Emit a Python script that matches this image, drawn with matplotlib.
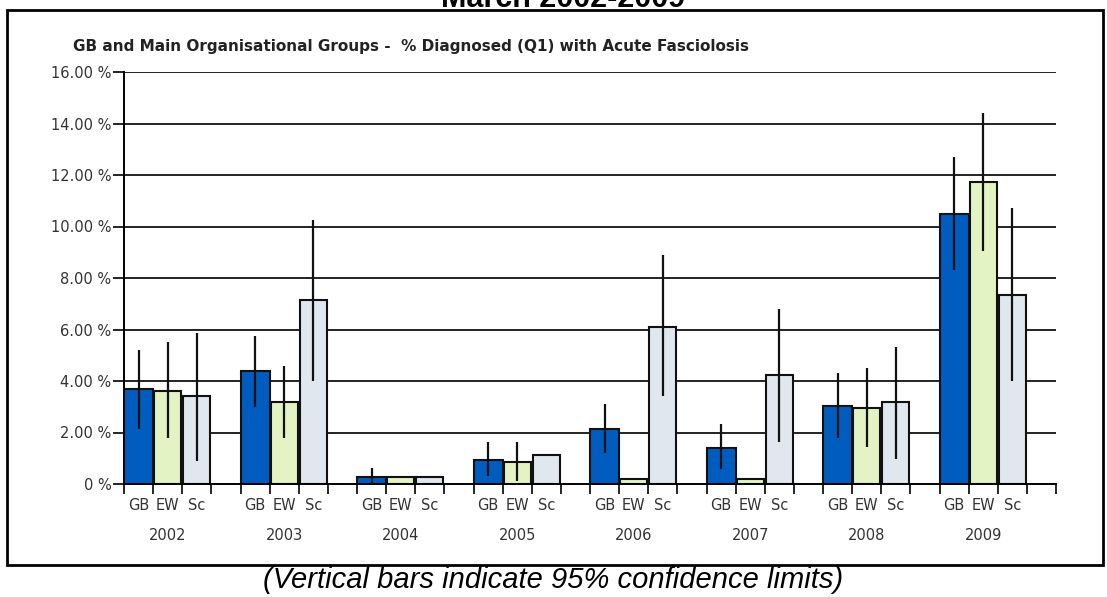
import numpy as np
import matplotlib.pyplot as plt
from matplotlib.patches import Rectangle
from matplotlib.transforms import blended_transform_factory

years = ['2002', '2003', '2004', '2005', '2006', '2007', '2008', '2009']
groups = ['GB', 'EW', 'Sc']

# % diagnosed, with 95% confidence limits (nan = no bar drawn)
gb = [3.69, 4.39, 0.27, 0.93, 2.14, 1.40, 3.03, 10.49]
gb_lo = [2.14, 3.00, 0.00, 0.31, 1.20, 0.58, 1.79, 8.31]
gb_hi = [5.20, 5.75, 0.62, 1.63, 3.10, 2.33, 4.31, 12.70]

ew = [3.61, 3.18, 0.27, 0.85, 0.19, 0.19, 2.95, 11.73]
ew_lo = [1.79, 1.79, np.nan, 0.12, np.nan, np.nan, 1.44, 9.05]
ew_hi = [5.51, 4.58, np.nan, 1.63, np.nan, np.nan, 4.50, 14.40]

sc = [3.42, 7.15, 0.27, 1.13, 6.10, 4.23, 3.18, 7.34]
sc_lo = [0.90, 4.00, np.nan, np.nan, 3.42, 1.63, 0.97, 4.00]
sc_hi = [5.86, 10.25, np.nan, np.nan, 8.90, 6.80, 5.32, 10.72]

ytick_vals = [0, 2, 4, 6, 8, 10, 12, 14, 16]
ytick_labels = ['0 %', '2.00 %', '4.00 %', '6.00 %', '8.00 %',
                '10.00 %', '12.00 %', '14.00 %', '16.00 %']

colors = ['#005cbf', '#e3f3c3', '#e1e7ef']
widths = [1.0, 0.92, 0.92]

W, H = 1107, 597
fig = plt.figure(figsize=(W / 100, H / 100), dpi=100)
ax = fig.add_axes([124 / W, 1 - 484 / H, (1056 - 124) / W, (484 - 72) / H])

series = [(gb, gb_lo, gb_hi), (ew, ew_lo, ew_hi), (sc, sc_lo, sc_hi)]
n = len(years)
for s, (vals, lo, hi) in enumerate(series):
    x = np.arange(n) * 4 + s + 0.5
    ax.bar(x, vals, width=widths[s], color=colors[s], edgecolor='#111111',
           linewidth=1.5, zorder=2)
    lo = np.array(lo)
    hi = np.array(hi)
    ok = ~np.isnan(lo)
    ax.vlines(x[ok], lo[ok], hi[ok], color='#111111', linewidth=1.6, zorder=3)

# horizontal lines behind bars
for v in ytick_vals[1:]:
    ax.axhline(v, color='#222222', linewidth=1.4, zorder=1)

ax.set_xlim(0, 4 * n)
ax.set_ylim(0, 16)
ax.set_yticks(ytick_vals)
ax.set_yticklabels(ytick_labels, fontsize=10.5, color='#333333')
ax.set_xticks(np.arange(0, 4 * n + 1))
ax.set_xticklabels([])
ax.tick_params(axis='y', length=8, width=1.2, pad=1)
ax.tick_params(axis='x', length=7, width=1.2)
for side in ['top', 'right']:
    ax.spines[side].set_visible(False)
ax.spines['left'].set_linewidth(1.4)
ax.spines['bottom'].set_linewidth(1.4)

trans = blended_transform_factory(ax.transData, ax.transAxes)
for g, yr in enumerate(years):
    for s, name in enumerate(groups):
        ax.text(4 * g + s + 0.5, -21 / 412, name, transform=trans,
                ha='center', va='center', fontsize=10.5, color='#333333')
    ax.text(4 * g + 1.5, -51 / 412, yr, transform=trans,
            ha='center', va='center', fontsize=10.5, color='#333333')

# outer frame and texts
fig.patches.append(Rectangle((7 / W, 1 - 565 / H), (1103 - 7) / W, (565 - 10) / H,
                             transform=fig.transFigure, fill=False,
                             edgecolor='black', linewidth=2))
fig.text(73 / W, 1 - 47 / H,
         'GB and Main Organisational Groups -  % Diagnosed (Q1) with Acute Fasciolosis',
         fontsize=11, fontweight='bold', ha='left', va='center', color='#222222')
# title is cropped at the top edge in the original
fig.text(563 / W, 1 - 7 / H, 'March 2002-2009', fontsize=22, fontweight='bold',
         family='Liberation Sans', ha='center', va='baseline')
fig.text(553 / W, 1 - 580 / H, '(Vertical bars indicate 95% confidence limits)',
         fontsize=21, style='italic', family='Liberation Sans',
         ha='center', va='center')

fig.savefig('out.png', dpi=100)
